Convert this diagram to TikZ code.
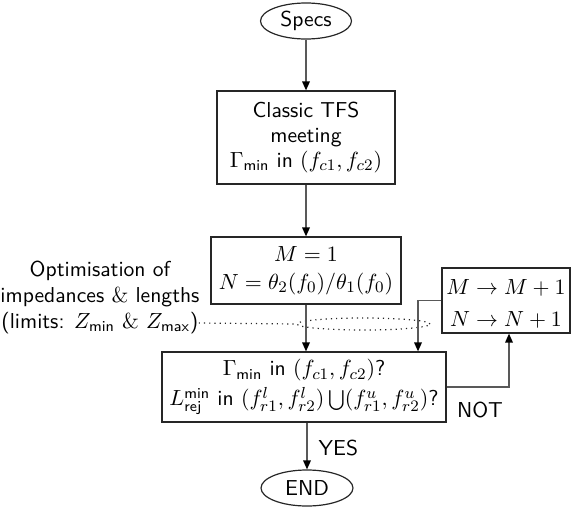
\documentclass[tikz,border=0pt]{standalone}
\usepackage{fontspec}
\renewcommand{\familydefault}{\sfdefault}
\usetikzlibrary{arrows.meta,shapes.geometric}
\begin{document}
\begin{tikzpicture}[x=0.5pt,y=-0.5pt,
  every node/.style={font=\sffamily\fontsize{10.8}{12.5}\selectfont, inner sep=0pt},
  boxn/.style={draw=black!85, rectangle, align=center, line width=0.6pt},
  ellip/.style={draw=black!85, ellipse, line width=0.6pt},
  arr/.style={draw=black!65, line width=0.7pt, -{Triangle[length=4.5pt,width=3.8pt,fill=black,color=black]}},
  ]
\useasboundingbox (0,0) rectangle (573,509);
\node[ellip, minimum width=45.5pt, minimum height=18pt] (specs) at (306,21) {Specs};
\node[boxn, minimum width=89pt, minimum height=46.5pt] (b1) at (306,137.5)
  {Classic TFS\\ meeting\\ $\Gamma_{\mathsf{min}}$ in $(f_{c1},f_{c2})$};
\node[boxn, minimum width=95pt, minimum height=33.5pt] (b2) at (306,270.5)
  {$M=1$\\[1.5pt] $N=\theta_2(f_0)/\theta_1(f_0)$};
\node[boxn, minimum width=142pt, minimum height=35pt] (dec) at (304,387)
  {$\Gamma_{\mathsf{min}}$ in $(f_{c1},f_{c2})$?\\[2.5pt]
   $L^{\mathsf{min}}_{\mathsf{rej}}$ in $(f^l_{r1},f^l_{r2})\bigcup(f^u_{r1},f^u_{r2})$?};
\node[boxn, minimum width=64pt, minimum height=32.5pt] (upd) at (506,300.5) {};
\node[align=center] (updt) at ([yshift=-1.75pt]upd.center)
  {$M\rightarrow M+1$\\[3.5pt] $N\rightarrow N+1$};
\node[ellip, minimum width=46pt, minimum height=18pt] (endn) at (307,488) {END};
\node[draw=black!85, dotted, ellipse, line width=0.6pt, minimum width=66.5pt, minimum height=6pt] (dell) at (363.5,324) {};
\node[align=center] (opta) at (100,284)
  {Optimisation of\\[0.5pt] impedances $\&$ lengths};
\node[anchor=west] (optb) at (1,323)
  {(limits: $Z_{\mathsf{min}}$ $\&$ $Z_{\mathsf{max}}$)};
\node (notl) at (480,410) {NOT};
\draw[arr] (specs) -- (b1);
\draw[arr] (b1) -- (b2);
\draw[arr] (b2.south) -- (b2.south |- dec.north);
\draw[arr] (upd.west) -| ([xshift=57pt]dec.north);
\draw[arr] (dec.east) -| ([xshift=1.5pt]upd.south);
\draw[arr] (dec.south -| endn.north) -- node[right=5.5pt, yshift=-1pt] {YES} (endn.north);
\draw[black!85, dotted, line width=0.6pt] (optb.east) -- (dell.west);
\end{tikzpicture}
\end{document}
